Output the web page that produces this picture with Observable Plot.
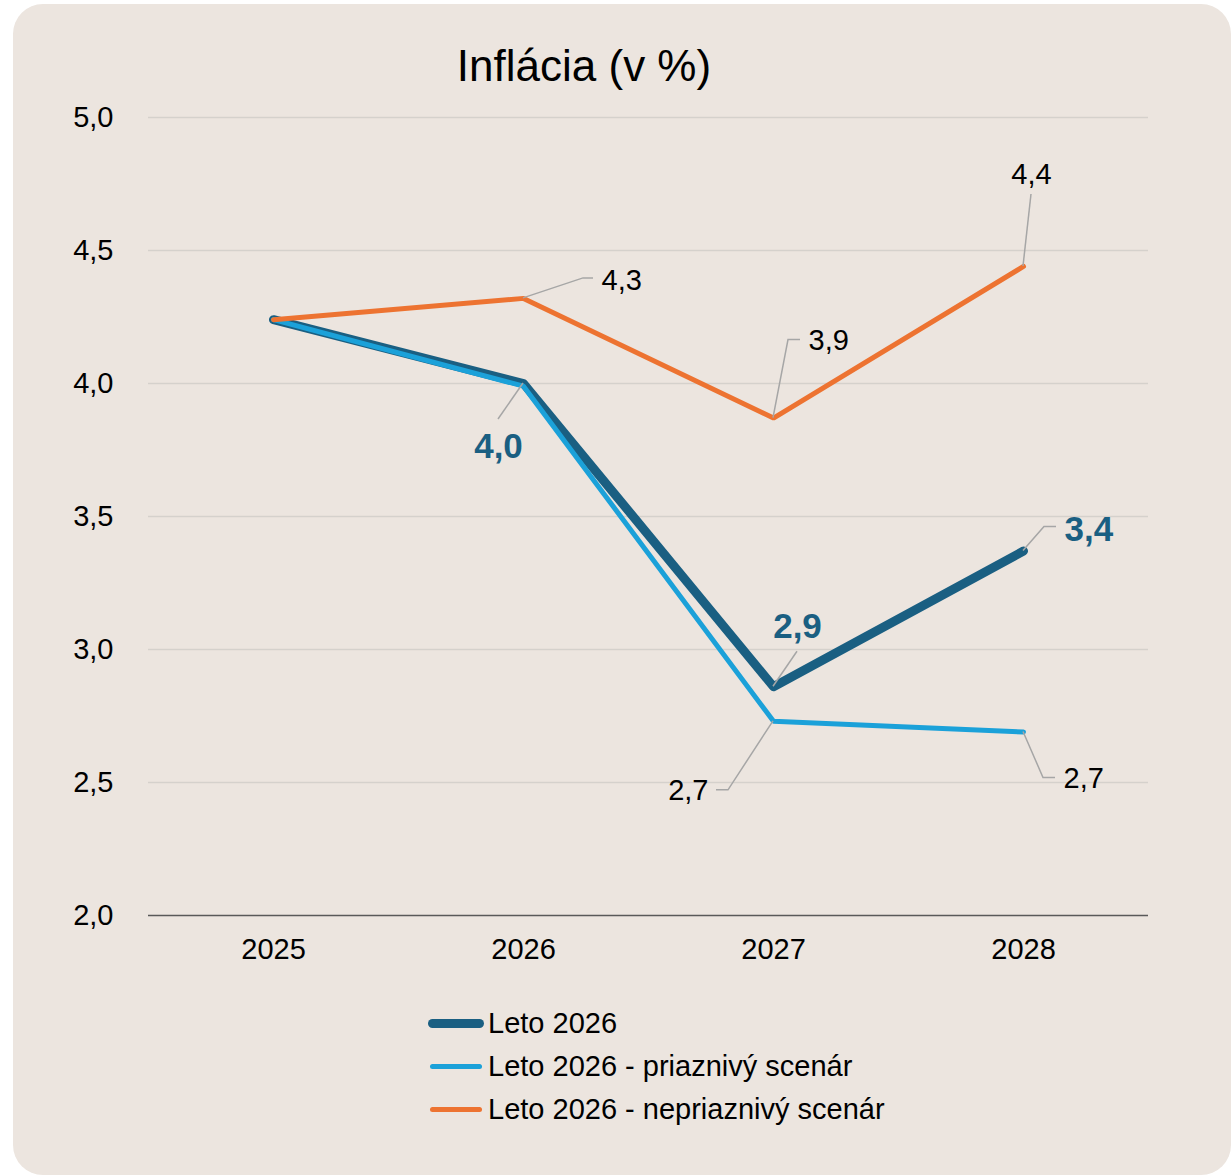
<!DOCTYPE html>
<html><head><meta charset="utf-8">
<script src="https://cdn.jsdelivr.net/npm/d3@7"></script>
<script src="https://cdn.jsdelivr.net/npm/@observablehq/plot@0.6"></script>
<style>
body{margin:0;background:#fff;width:1231px;height:1175px;overflow:hidden;position:relative;font-family:"Liberation Sans",Arial,sans-serif;}
#card{position:absolute;left:13px;top:4px;width:1218px;height:1171px;border-radius:30px;background:#ece5df;}
#title{position:absolute;left:0;width:1168px;top:39px;line-height:54px;text-align:center;font-size:44px;color:#000;}
#chart{position:absolute;left:0;top:0;}
#legend{position:absolute;left:428px;top:1002px;}
.row{display:flex;align-items:center;height:43px;font-size:29px;color:#000;}
.row svg{display:block;}
</style></head>
<body>
<div id="card"></div>
<div id="title">Inflácia (v %)</div>
<div id="chart"></div>
<div id="legend"></div>
<script>
// ---- data ----
const years = ["2025", "2026", "2027", "2028"];
const leto = [4.24, 4.00, 2.86, 3.37];
const priaznivy = [4.24, 3.99, 2.73, 2.69];
const nepriaznivy = [4.24, 4.32, 3.87, 4.44];
const seriesNames = ["Leto 2026", "Leto 2026 - priaznivý scenár", "Leto 2026 - nepriaznivý scenár"];
const yTicks = [2.0, 2.5, 3.0, 3.5, 4.0, 4.5, 5.0];

// ---- styles ----
const colors = {"Leto 2026": "#1a5f82", "Leto 2026 - priaznivý scenár": "#1ba1d9", "Leto 2026 - nepriaznivý scenár": "#ed7331"};
const widths = {"Leto 2026": 9, "Leto 2026 - priaznivý scenár": 5, "Leto 2026 - nepriaznivý scenár": 5};
const fmt = v => v.toFixed(1).replace(".", ",");

const seriesValues = [leto, priaznivy, nepriaznivy];
const rows = seriesNames.flatMap((s, i) => years.map((yr, j) => ({series: s, year: yr, value: seriesValues[i][j]})));

// label annotations: series index, year index, leader offsets (px), text offset (px), anchor, bold
const annotations = [
  {s: 2, j: 1, leader: [[0,0],[60,-20],[70,-20]], tx: 78, ty: -18, anchor: "start", bold: false},
  {s: 2, j: 2, leader: [[0,0],[15,-78],[27,-78]], tx: 35, ty: -77, anchor: "start", bold: false},
  {s: 2, j: 3, leader: [[0,0],[8,-72]], tx: 8, ty: -92, anchor: "middle", bold: false},
  {s: 0, j: 1, leader: [[0,0],[-25,36]], tx: -25, ty: 63, anchor: "middle", bold: true},
  {s: 0, j: 2, leader: [[0,0],[24,-35]], tx: 24, ty: -60, anchor: "middle", bold: true},
  {s: 0, j: 3, leader: [[0,0],[21,-24],[33,-24]], tx: 41, ty: -21, anchor: "start", bold: true},
  {s: 1, j: 2, leader: [[0,0],[-45,69],[-57,69]], tx: -65, ty: 69, anchor: "end", bold: false},
  {s: 1, j: 3, leader: [[0,0],[20,46],[32,46]], tx: 40, ty: 47, anchor: "start", bold: false}
];

const marks = [
  Plot.gridY(yTicks.filter(t => t > 2), {stroke: "#d5d1cc", strokeOpacity: 1, strokeWidth: 1.3}),
  Plot.ruleY([2], {stroke: "#595959", strokeWidth: 1.5}),
  Plot.axisY(yTicks, {tickSize: 0, tickPadding: 35, tickFormat: fmt, fontSize: 29, fill: "#000"}),
  Plot.axisX({tickSize: 0, tickPadding: 23, fontSize: 29, fill: "#000"}),
];
seriesNames.forEach((s, i) => {
  marks.push(Plot.line(rows.filter(r => r.series === s), {
    x: "year", y: "value", stroke: colors[s], strokeWidth: widths[s],
    strokeLinejoin: i === 0 ? "round" : "miter", strokeLinecap: "round"
  }));
});
annotations.forEach(a => {
  const s = seriesNames[a.s];
  marks.push(Plot.text([{year: years[a.j], value: seriesValues[a.s][a.j]}], {
    x: "year", y: "value", text: d => fmt(d.value), dx: a.tx, dy: a.ty,
    textAnchor: a.anchor, fontSize: a.bold ? 35 : 29, fontWeight: a.bold ? "bold" : "normal",
    fill: a.bold ? colors[s] : "#000"
  }));
});

const plot = Plot.plot({
  width: 1231, height: 1000,
  marginTop: 117, marginBottom: 85, marginLeft: 148, marginRight: 83,
  style: {fontFamily: "'Liberation Sans', Arial, sans-serif", fontSize: "29px", background: "transparent", color: "#000", overflow: "visible"},
  x: {type: "point", domain: years, padding: 0.5, label: null},
  y: {domain: [2, 5], label: null},
  marks
});

// leader lines, through the plot's scales
const xs = plot.scale("x"), ys = plot.scale("y");
const svg = d3.select(plot);
const g = svg.insert("g", "g[aria-label=text]");
annotations.forEach(a => {
  const px = xs.apply(years[a.j]), py = ys.apply(seriesValues[a.s][a.j]);
  g.append("polyline")
    .attr("points", a.leader.map(([dx, dy]) => `${px + dx},${py + dy}`).join(" "))
    .attr("fill", "none").attr("stroke", "#a6a6a6").attr("stroke-width", 1.5);
});
document.getElementById("chart").appendChild(plot);

// legend
const legend = d3.select("#legend");
seriesNames.forEach(s => {
  const row = legend.append("div").attr("class", "row");
  const sv = row.append("svg").attr("width", 60).attr("height", 43);
  sv.append("line").attr("x1", 4.5).attr("x2", 51.5).attr("y1", 21.5).attr("y2", 21.5)
    .attr("stroke", colors[s]).attr("stroke-width", widths[s]).attr("stroke-linecap", "round");
  row.append("span").text(s);
});
</script>
</body></html>
